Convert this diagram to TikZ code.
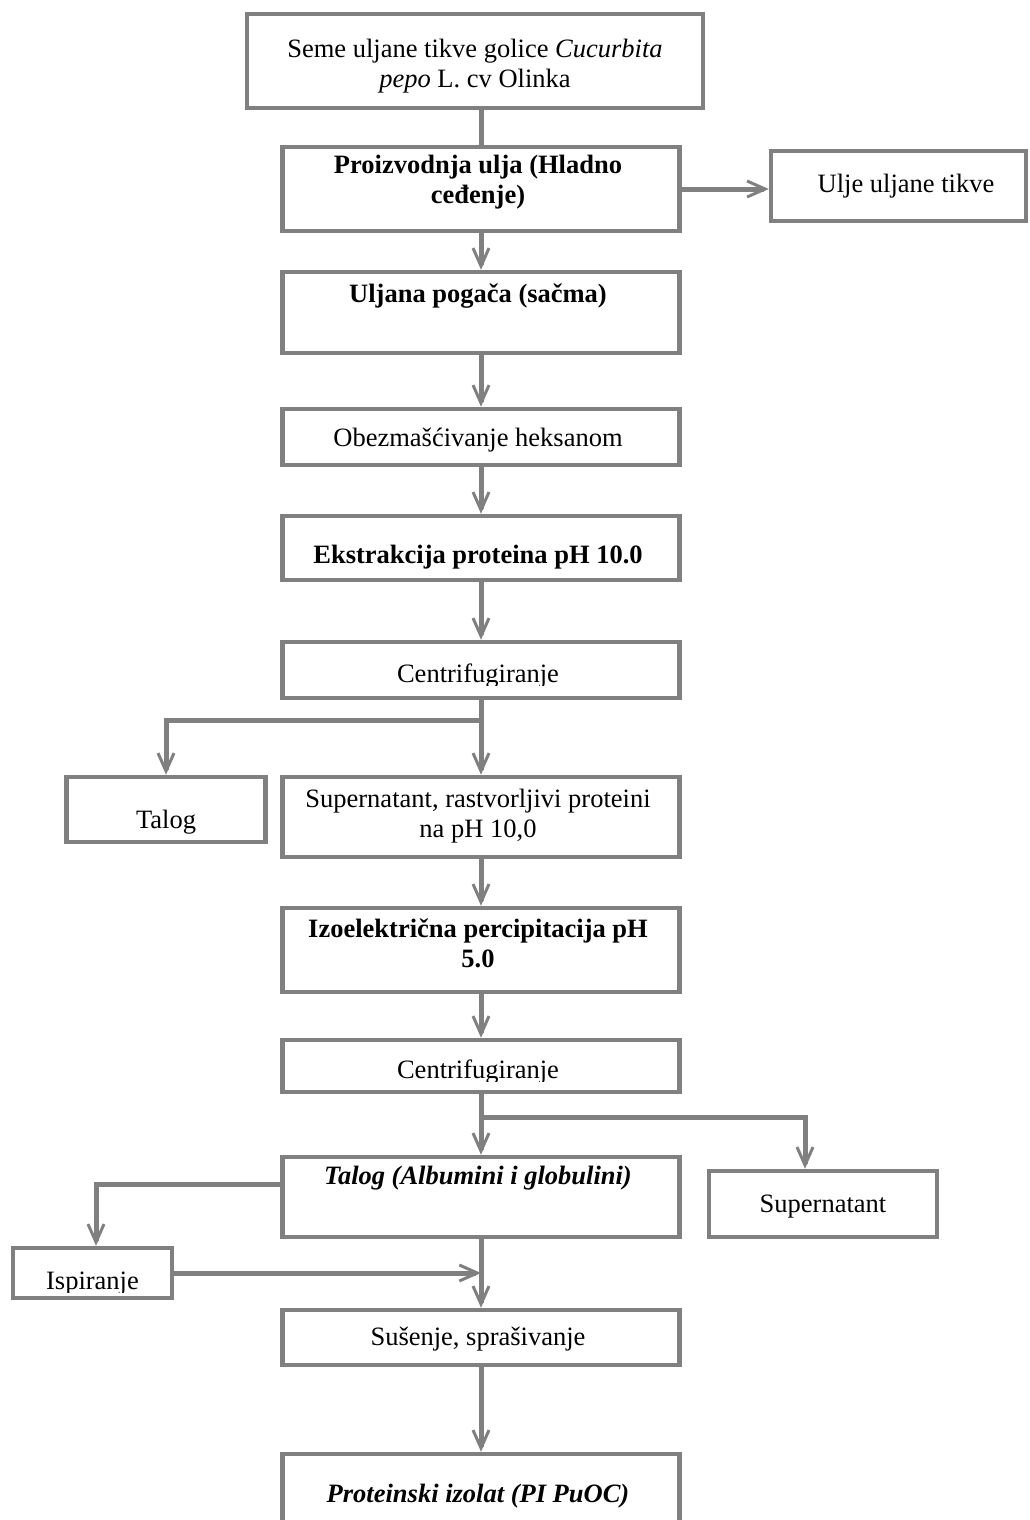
\documentclass[tikz,border=0pt]{standalone}
\usepackage{fontspec}
\setmainfont{Liberation Serif}
\usetikzlibrary{arrows.meta}
\begin{document}
\begin{tikzpicture}[x=1pt,y=-1pt,
  box/.style={draw=gray, line width=4.5pt, rectangle, inner sep=0pt, fill=white},
  conn/.style={draw=gray, line width=5pt},
  arr/.style={conn, -{Straight Barb[length=18pt,width=16pt,line width=3pt]}},
  lbl/.style={anchor=base, inner sep=0pt, font=\fontsize{26.5}{30}\selectfont},
]
\useasboundingbox (0,0) rectangle (1029,1520);
\clip (0,0) rectangle (1029,1520);
% boxes
\node[box, minimum width=456pt, minimum height=94pt] (b1) at (475,61) {};
\node[box, minimum width=397pt, minimum height=84pt] (b2) at (481,189) {};
\node[box, minimum width=255pt, minimum height=70pt] (ulje) at (898.5,186) {};
\node[box, minimum width=397pt, minimum height=81pt] (b3) at (481,312.5) {};
\node[box, minimum width=397pt, minimum height=56pt] (b4) at (481,437) {};
\node[box, minimum width=397pt, minimum height=64pt] (b5) at (481,548) {};
\node[box, minimum width=397pt, minimum height=56pt] (c1) at (481,670) {};
\node[box, minimum width=199pt, minimum height=65pt] (talog1) at (166,809.5) {};
\node[box, minimum width=397pt, minimum height=80pt] (sup1) at (481,817) {};
\node[box, minimum width=397pt, minimum height=84pt] (izo) at (481,950) {};
\node[box, minimum width=397pt, minimum height=52pt] (c2) at (481,1066) {};
\node[box, minimum width=397pt, minimum height=80pt] (talog2) at (481,1197) {};
\node[box, minimum width=228pt, minimum height=66pt] (sup2) at (823,1204) {};
\node[box, minimum width=159pt, minimum height=50pt] (isp) at (92.5,1273) {};
\node[box, minimum width=397pt, minimum height=55pt] (sus) at (481,1337.5) {};
\node[box, minimum width=397pt, minimum height=86pt] (prot) at (481,1497) {};
% texts
\node[lbl] (t1a) at (475,58) {Seme uljane tikve golice \textit{Cucurbita}};
\node[lbl] (t1b) at (475,88) {\textit{pepo} L. cv Olinka};
\node[lbl] (t2a) at (478,173) {\textbf{Proizvodnja ulja (Hladno}};
\node[lbl] (t2b) at (478,203) {\textbf{ceđenje)}};
\node[lbl] (tu) at (906,192) {Ulje uljane tikve};
\node[lbl] (t3) at (478,302) {\textbf{Uljana pogača (sačma)}};
\node[lbl] (t4) at (478,446) {Obezmašćivanje heksanom};
\node[lbl] (t5) at (478,563) {\textbf{Ekstrakcija proteina pH 10.0}};
\begin{scope}
  \clip (290,650) rectangle (670,685.5);
  \node[lbl] (tc1) at (478,682) {Centrifugiranje};
\end{scope}
\node[lbl] (tt1) at (166,828) {Talog};
\node[lbl] (ts1a) at (478,807) {Supernatant, rastvorljivi proteini};
\node[lbl] (ts1b) at (478,837) {na pH 10,0};
\node[lbl] (ti1) at (478,937) {\textbf{Izoelektrična percipitacija pH}};
\node[lbl] (ti2) at (478,967) {\textbf{5.0}};
\begin{scope}
  \clip (290,1045) rectangle (670,1081.5);
  \node[lbl] (tc2) at (478,1078) {Centrifugiranje};
\end{scope}
\node[lbl] (tt2) at (478,1184) {\textbf{\textit{Talog (Albumini i globulini)}}};
\node[lbl] (ts2) at (823,1212) {Supernatant};
\begin{scope}
  \clip (20,1255) rectangle (165,1292.5);
  \node[lbl] (tis) at (92.5,1289) {Ispiranje};
\end{scope}
\node[lbl] (tsu) at (478,1345) {Sušenje, sprašivanje};
\node[lbl] (tp) at (478,1502) {\textbf{\textit{Proteinski izolat (PI PuOC)}}};
% connectors
\draw[conn] (b1.south -| b2.north) -- (b2.north);
\draw[arr] (b2.east) -- (b2.east -| ulje.west);
\draw[arr] (b2.south) -- (b3.north);
\draw[arr] (b3.south) -- (b4.north);
\draw[arr] (b4.south) -- (b5.north);
\draw[arr] (b5.south) -- (c1.north);
\coordinate (j1) at (481,720);
\coordinate (j1l) at (166,720);
\draw[arr] (c1.south) -- (sup1.north);
\draw[arr] (j1) -- (j1l) -- (talog1.north);
\draw[arr] (sup1.south) -- (izo.north);
\draw[arr] (izo.south) -- (c2.north);
\coordinate (j2) at (481,1117);
\coordinate (j2r) at (805,1117);
\draw[arr] (c2.south) -- (talog2.north);
\draw[arr] (j2) -- (j2r) -- (sup2.north -| j2r);
\coordinate (j3) at (96,1184);
\draw[arr] (talog2.west |- j3) -- (j3) -- (isp.north -| j3);
\draw[arr] (isp.east) -- (isp.east -| talog2.south);
\draw[arr] (talog2.south) -- (sus.north);
\draw[arr] (sus.south) -- (prot.north);
\end{tikzpicture}
\end{document}
